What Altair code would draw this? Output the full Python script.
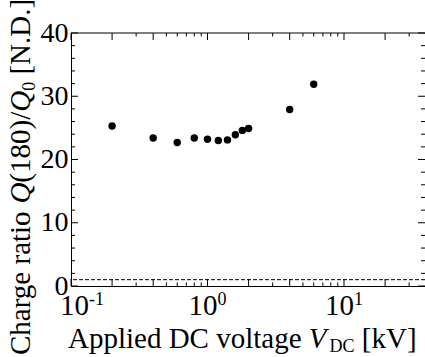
import altair as alt
import pandas as pd

# ---- data ----
voltage_kv = [0.2, 0.4, 0.6, 0.8, 1.0, 1.2, 1.4, 1.6, 1.8, 2.0, 4.0, 6.0]
charge_ratio = [25.3, 23.4, 22.7, 23.4, 23.2, 23.0, 23.1, 23.9, 24.6, 24.9, 27.9, 31.9]
reference_level = [1]

x_domain = [0.1, 39.2]
y_domain = [0, 40]
x_major_ticks = [0.1, 0.2, 0.4, 1, 2, 4, 10, 20]
x_minor_ticks = [0.3, 0.5, 0.6, 0.7, 0.8, 0.9, 3, 5, 6, 7, 8, 9, 30]
y_major_ticks = [0, 10, 20, 30, 40]
y_minor_ticks = [2, 4, 6, 8, 12, 14, 16, 18, 22, 24, 26, 28, 32, 34, 36, 38]
x_label_values = [0.1, 1, 10]
x_label_base = ["10", "10", "10"]
x_label_exp = ["-1", "0", "1"]

# title pieces
xt_main = "Applied DC voltage"
xt_var = "V"
xt_sub = "DC"
xt_unit = "[kV]"
yt_main = "Charge ratio"
yt_var = "Q"
yt_mid = "(180)/"
yt_sub = "0"
yt_unit = "[N.D.]"

# ---- layout ----
W, H = 354, 253
FONT = "Liberation Serif"
FS = 29
SP = 0.25 * FS

xs = alt.Scale(type="log", domain=x_domain, nice=False)
ys = alt.Scale(domain=y_domain, nice=False, zero=False)

pts = pd.DataFrame({"V": voltage_kv, "R": charge_ratio})

points = alt.Chart(pts).mark_circle(size=55, color="black", opacity=1).encode(
    x=alt.X("V:Q", scale=xs, axis=alt.Axis(labels=False, ticks=False, title=None, grid=False,
                                             domainColor="black", domainWidth=1)),
    y=alt.Y("R:Q", scale=ys, axis=alt.Axis(values=y_major_ticks, ticks=False, tickSize=0,
                                             labelPadding=3, labelFont=FONT, labelFontSize=28,
                                             labelColor="black", labelFlush=False, grid=False,
                                             title=None, domainColor="black", domainWidth=1)),
)

dashed = alt.Chart(pd.DataFrame({"r": reference_level})).mark_rule(
    color="black", strokeWidth=1, strokeDash=[4, 2]
).encode(y=alt.Y("r:Q", scale=ys))

top_line = alt.Chart(pd.DataFrame({"a": [0]})).mark_rule(color="black", strokeWidth=1).encode(
    x=alt.value(0), x2=alt.value(W), y=alt.value(0)
)


def yticks(vals, length):
    df = pd.DataFrame({"t": vals})
    left = alt.Chart(df).mark_rule(color="black", strokeWidth=1).encode(
        y=alt.Y("t:Q", scale=ys), x=alt.value(0), x2=alt.value(length))
    right = alt.Chart(df).mark_rule(color="black", strokeWidth=1).encode(
        y=alt.Y("t:Q", scale=ys), x=alt.value(W - length), x2=alt.value(W))
    return [left, right]


def xticks(vals, length):
    df = pd.DataFrame({"t": vals})
    bottom = alt.Chart(df).mark_rule(color="black", strokeWidth=1).encode(
        x=alt.X("t:Q", scale=xs), y=alt.value(H), y2=alt.value(H - length))
    top = alt.Chart(df).mark_rule(color="black", strokeWidth=1).encode(
        x=alt.X("t:Q", scale=xs), y=alt.value(0), y2=alt.value(length))
    return [bottom, top]


xlab = pd.DataFrame({"v": x_label_values, "b": x_label_base, "e": x_label_exp})


def xlabels(filt, shift):
    base = alt.Chart(xlab).transform_filter(filt).mark_text(
        align="right", baseline="alphabetic", dx=shift, font=FONT, fontSize=FS, color="black"
    ).encode(x=alt.X("v:Q", scale=xs), y=alt.value(H + 29), text="b:N")
    exp = alt.Chart(xlab).transform_filter(filt).mark_text(
        align="left", baseline="alphabetic", dx=shift, font=FONT, fontSize=18, color="black"
    ).encode(x=alt.X("v:Q", scale=xs), y=alt.value(H + 19), text="e:N")
    return [base, exp]


xl = xlabels(alt.datum.v < 0.5, 18) + xlabels(alt.datum.v >= 0.5, 10)


def piece(txt, x, y, size=FS, italic=False, angle=0):
    props = dict(align="left", baseline="alphabetic", font=FONT, fontSize=size, color="black")
    if italic:
        props["fontStyle"] = "italic"
    if angle:
        props["angle"] = angle
    return alt.Chart(pd.DataFrame({"t": [txt]})).mark_text(**props).encode(
        x=alt.value(x), y=alt.value(y), text="t:N")


# x title
bx, by = -3, 315
w_main = 8.305 * FS
w_v = 0.611 * FS
sub_x = bx + w_main + w_v + 3
xt = [
    piece(xt_main, bx, by),
    piece(xt_var, bx + w_main, by, italic=True),
    piece(xt_sub, sub_x, by + 4, size=18),
    piece(xt_unit, sub_x + 1.389 * 18 + SP, by),
]

# y title (rotated, reading upward)
lx, ly = -41, 322
o1 = 5.221 * FS
o2 = o1 + 0.722 * FS
o3 = o2 + 2.444 * FS
o4 = o3 + 0.722 * FS
o5 = o4 + 0.5 * 18 + SP
yt = [
    piece(yt_main, lx, ly, angle=270),
    piece(yt_var, lx, ly - o1, italic=True, angle=270),
    piece(yt_mid, lx, ly - o2, angle=270),
    piece(yt_var, lx, ly - o3, italic=True, angle=270),
    piece(yt_sub, lx + 5, ly - o4, size=18, angle=270),
    piece(yt_unit, lx, ly - o5, angle=270),
]

layers = [points, dashed, top_line] + yticks(y_major_ticks, 7) + yticks(y_minor_ticks, 4) \
    + xticks(x_major_ticks, 7) + xticks(x_minor_ticks, 3.5) + xl + xt + yt

chart = alt.layer(*layers).properties(
    width=W, height=H,
    padding={"left": 71, "top": 33, "right": 0, "bottom": 71},
    autosize=alt.AutoSizeParams(type="none"),
    background="white",
).configure_view(stroke=None)

chart.save("out.html", embed_options={"renderer": "svg", "actions": False})
